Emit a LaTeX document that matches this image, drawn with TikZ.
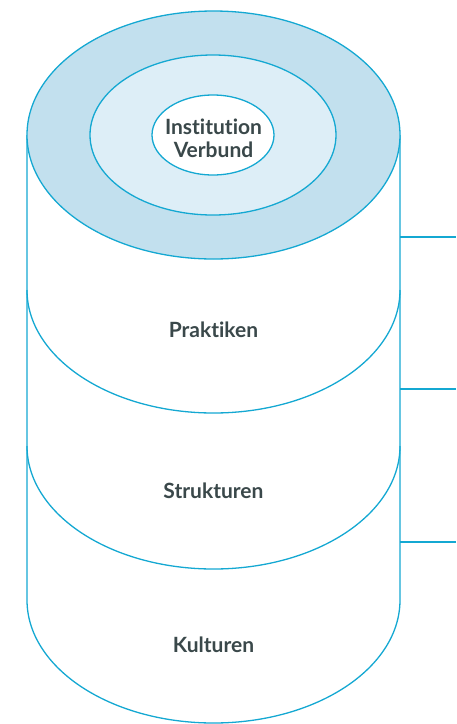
\documentclass[tikz,border=0pt]{standalone}
\usepackage{fontspec}
\setmainfont{Lato}[Ligatures=NoCommon]
\usepackage{tikz}
\usetikzlibrary{positioning}

\definecolor{rimblue}{RGB}{20,168,210}
\definecolor{ringdark}{RGB}{194,224,238}
\definecolor{ringlight}{RGB}{221,238,247}
\definecolor{labelgrey}{RGB}{58,72,74}

\tikzset{
  rim/.style={draw=rimblue, line width=1.3pt},
  layer/.style={font=\bfseries\fontsize{21}{23}\selectfont, text=labelgrey, align=center, inner sep=0pt},
}

\begin{document}
\begin{tikzpicture}[x=1pt,y=-1pt]
  \useasboundingbox (0,0) rectangle (456,724);

  \draw[rim] (27,135) -- (27,600) arc[start angle=180, end angle=0, x radius=186.5, y radius=123] -- (400,135);
  \draw[rim] (27,290) arc[start angle=180, end angle=0, x radius=186.5, y radius=123];
  \draw[rim] (27,446) arc[start angle=180, end angle=0, x radius=186.5, y radius=123];

  \draw[rim, fill=ringdark] (213.5,135) ellipse [x radius=186.5, y radius=124];
  \draw[rim, fill=ringlight] (213,135) ellipse [x radius=123, y radius=80];
  \draw[rim, fill=white] (213,135) ellipse [x radius=61, y radius=40];

  \draw (213.5,138) node[layer] (inst) {Institution\\Verbund};
  \draw (213.5,330) node[layer] (prak) {Praktiken};
  \draw (213.5,491) node[layer] (struk) {Strukturen};
  \draw (213.5,645) node[layer] (kult) {Kulturen};

  \coordinate (side1) at (400,237);  \coordinate (end1) at (456,237);
  \coordinate (side2) at (400,389);  \coordinate (end2) at (456,389);
  \coordinate (side3) at (400,542);  \coordinate (end3) at (456,542);
  \path[rim] (side1) edge (end1);
  \path[rim] (side2) edge (end2);
  \path[rim] (side3) edge (end3);
\end{tikzpicture}
\end{document}
